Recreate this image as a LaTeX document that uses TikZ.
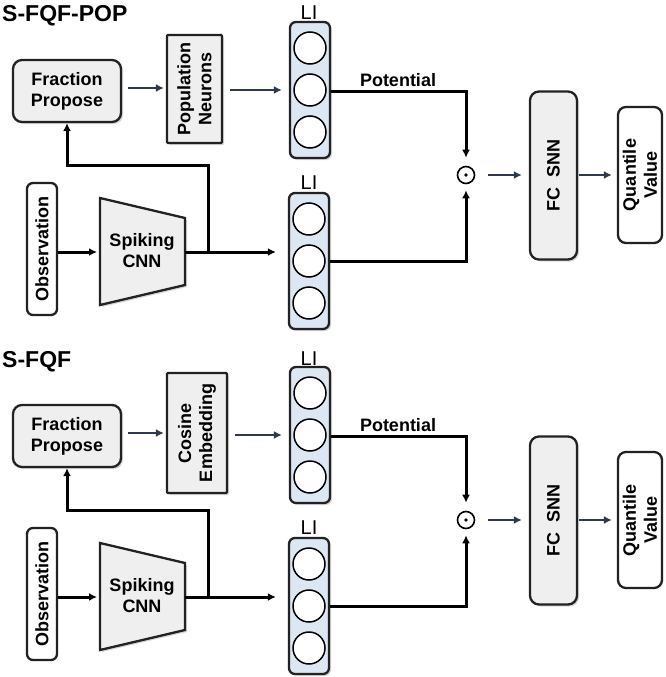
\documentclass[tikz,border=0pt]{standalone}
\usepackage{fontspec}
\setmainfont{Liberation Sans}
\usetikzlibrary{arrows.meta,shadows}
\definecolor{boxfill}{HTML}{EFEFEF}
\definecolor{boxline}{HTML}{222222}
\definecolor{lifill}{HTML}{DCE7F4}
\definecolor{arrdark}{HTML}{2E3A4B}
\tikzset{
  blk/.style={draw=boxline, line width=2.3pt, fill=boxfill, inner sep=0pt,
    drop shadow={opacity=0.3, shadow xshift=2pt, shadow yshift=-2pt}},
  wblk/.style={draw=boxline, line width=2.3pt, fill=white, inner sep=0pt},
  libox/.style={blk, fill=lifill, rounded corners=6pt, minimum width=40pt, minimum height=136pt},
  neuron/.style={circle, draw=black, line width=1.5pt, fill=white, minimum size=32pt, inner sep=0pt},
  txt/.style={font=\fontsize{18}{21}\selectfont\bfseries, align=center, inner sep=0pt},
  ttl/.style={font=\fontsize{23}{23}\selectfont\bfseries, inner sep=0pt, anchor=base west},
  lilab/.style={font=\fontsize{20}{20}\selectfont, inner sep=0pt, anchor=base},
  arrB/.style={draw=black, line width=3pt, -{Latex[length=8pt,width=8pt]}},
  arrD/.style={draw=arrdark, line width=2.7pt, -{Latex[length=8pt,width=8pt]}},
}
\newcommand\fqfpanel[8]{%
\begin{scope}[yshift=-#2pt]
  \node[ttl] (#1title) at (2,22) {#3};
  % fraction propose
  \node[blk, rounded corners=9pt, minimum width=108pt, minimum height=62pt] (#1fp) at (67,91) {};
  \node[txt] (#1fpt) at (#1fp) {Fraction\\Propose};
  % middle box
  \node[blk, rounded corners=1pt, minimum width=#5pt, minimum height=#6pt] (#1mid) at (#7,#8) {};
  \node[txt, rotate=90] (#1midt) at (#1mid) {#4};
  % LI columns
  \node[libox] (#1lia) at (310,90) {};
  \node[neuron] (#1lia1) at (310,48) {};
  \node[neuron] (#1lia2) at (310,90) {};
  \node[neuron] (#1lia3) at (310,132) {};
  \node[lilab] (#1lial) at (309,20) {LI};
  \node[libox] (#1lib) at (309,261) {};
  \node[neuron] (#1lib1) at (309,219) {};
  \node[neuron] (#1lib2) at (309,261) {};
  \node[neuron] (#1lib3) at (309,303) {};
  \node[lilab] (#1libl) at (309,189) {LI};
  % observation
  \node[wblk, rounded corners=6pt, minimum width=30pt, minimum height=132pt] (#1obs) at (42,249) {};
  \node[txt, rotate=90] (#1obst) at (#1obs) {Observation};
  % spiking CNN
  \draw[blk] (100,198) -- (185,218) -- (185,285) -- (100,305) -- cycle;
  \node[txt] (#1cnn) at (142,251) {Spiking\\CNN};
  \coordinate (#1cnnl) at (100,252);
  \coordinate (#1cnnr) at (185,252);
  \coordinate (#1br) at (208,252);
  \coordinate (#1up) at (208,165);
  % odot
  \node[circle, draw=black, line width=1.6pt, minimum size=17pt, inner sep=0pt] (#1dot) at (466,175) {};
  \fill (#1dot) circle (1.8pt);
  % FC SNN and quantile
  \node[blk, rounded corners=9pt, minimum width=47pt, minimum height=168pt] (#1fc) at (553.5,175.5) {};
  \node[txt, rotate=90] (#1fct) at (#1fc) {FC\ \ SNN};
  \node[wblk, rounded corners=8pt, minimum width=44pt, minimum height=136pt] (#1qv) at (640,175) {};
  \node[txt, rotate=90] (#1qvt) at (#1qv) {Quantile\\Value};
  \node[txt] (#1pot) at (398,80) {Potential};
  % connectors
  \draw[arrB, shorten >=3pt] (#1obs.east |- #1cnnl) -- (#1cnnl);
  \draw[arrB, shorten >=12pt] (#1cnnr) -- (#1lib.west |- #1cnnr);
  \draw[arrB] (#1br) -- (#1up) -| (#1fp.south);
  \draw[arrD, shorten <=6pt, shorten >=2pt] ([yshift=3pt]#1fp.east) -- ([yshift=3pt]#1mid.west |- #1fp.east);
  \draw[arrD, shorten <=7pt, shorten >=7pt] (#1mid.east |- #1lia) -- (#1lia.west);
  \draw[arrB, shorten >=8pt] ([yshift=-1.5pt]#1lia.east) -| (#1dot.north);
  \draw[arrB, shorten >=6pt] (#1lib.east) -| (#1dot.south);
  \draw[arrD, shorten <=12.5pt, shorten >=7pt] (#1dot.east) -- (#1fc.west |- #1dot.east);
  \draw[arrD, shorten <=1pt, shorten >=5pt] (#1fc.east |- #1qv.west) -- (#1qv.west);
\end{scope}}
\begin{document}
\begin{tikzpicture}[x=1pt, y=-1pt]
  \fill[white] (0,0) rectangle (665,677);
  \useasboundingbox (0,0) rectangle (665,677);
  \fqfpanel{A}{0}{S-FQF-POP}{Population\\Neurons}{55}{108}{194.5}{89}
  \fqfpanel{B}{345}{S-FQF}{Cosine\\Embedding}{60}{120}{197}{88}
\end{tikzpicture}
\end{document}
